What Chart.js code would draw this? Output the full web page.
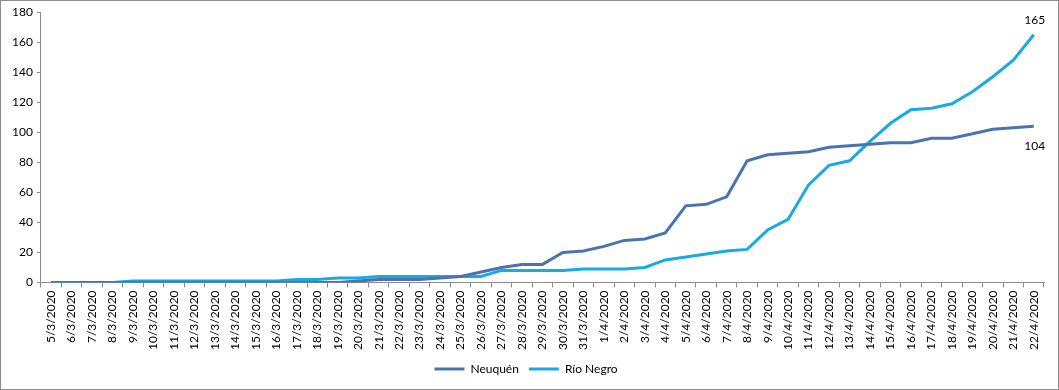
<!DOCTYPE html>
<html>
<head>
<meta charset="utf-8">
<script src="https://cdn.jsdelivr.net/npm/chart.js@4.4.0/dist/chart.umd.min.js"></script>
<style>
    html, body { margin: 0; padding: 0; background: #fff; }
    #wrap {
        width: 1059px; height: 390px; box-sizing: border-box;
        border: 1px solid #8c8c8c; position: relative;
    }
    canvas { display: block; }
</style>
</head>
<body>
<div id="wrap"><canvas id="casos" width="1057" height="388"></canvas></div>
<script>
// Fechas (eje X)
var fechas = [
    '5/3/2020', '6/3/2020', '7/3/2020', '8/3/2020', '9/3/2020', '10/3/2020', '11/3/2020',
    '12/3/2020', '13/3/2020', '14/3/2020', '15/3/2020', '16/3/2020', '17/3/2020', '18/3/2020',
    '19/3/2020', '20/3/2020', '21/3/2020', '22/3/2020', '23/3/2020', '24/3/2020', '25/3/2020',
    '26/3/2020', '27/3/2020', '28/3/2020', '29/3/2020', '30/3/2020', '31/3/2020', '1/4/2020',
    '2/4/2020', '3/4/2020', '4/4/2020', '5/4/2020', '6/4/2020', '7/4/2020', '8/4/2020',
    '9/4/2020', '10/4/2020', '11/4/2020', '12/4/2020', '13/4/2020', '14/4/2020', '15/4/2020',
    '16/4/2020', '17/4/2020', '18/4/2020', '19/4/2020', '20/4/2020', '21/4/2020', '22/4/2020'
];

// Casos acumulados
var neuquen = [
    0, 0, 0, 0, 0, 0, 0, 0, 0, 0, 0, 0, 0, 0, 0,
    1, 2, 2, 2, 3, 4, 7, 10, 12, 12, 20, 21, 24, 28, 29, 33,
    51, 52, 57, 81, 85, 86, 87, 90, 91, 92, 93, 93, 96, 96, 99, 102, 103, 104
];
var rioNegro = [
    0, 0, 0, 0, 1, 1, 1, 1, 1, 1, 1, 1, 2, 2, 3,
    3, 4, 4, 4, 4, 4, 4, 8, 8, 8, 8, 9, 9, 9, 10, 15,
    17, 19, 21, 22, 35, 42, 65, 78, 81, 94, 106, 115, 116, 119, 127, 137, 148, 165
];

var yTicks = [0, 20, 40, 60, 80, 100, 120, 140, 160, 180];

var FONT = "Lato, 'Open Sans', sans-serif";

// Etiqueta con el último valor de cada serie
var ultimoValor = {
    id: 'ultimoValor',
    afterDatasetsDraw: function (chart) {
        var ctx = chart.ctx;
        ctx.save();
        ctx.font = '12px ' + FONT;
        ctx.fillStyle = '#000';
        ctx.textAlign = 'center';
        ctx.textBaseline = 'middle';
        chart.data.datasets.forEach(function (ds, i) {
            var meta = chart.getDatasetMeta(i);
            var last = meta.data[meta.data.length - 1];
            var dy = ds.etiquetaArriba ? -15 : 20;
            ctx.fillText(ds.data[ds.data.length - 1], last.x + 1, last.y + dy);
        });
        ctx.restore();
    }
};

var ctx = document.getElementById('casos').getContext('2d');
new Chart(ctx, {
    type: 'line',
    data: {
        labels: fechas,
        datasets: [
            {
                label: 'Neuquén',
                data: neuquen,
                borderColor: '#4a74b0',
                backgroundColor: '#4a74b0',
                borderWidth: 3,
                pointRadius: 0,
                tension: 0,
                etiquetaArriba: false
            },
            {
                label: 'Río Negro',
                data: rioNegro,
                borderColor: '#18abe2',
                backgroundColor: '#18abe2',
                borderWidth: 3,
                pointRadius: 0,
                tension: 0,
                etiquetaArriba: true
            }
        ]
    },
    options: {
        responsive: false,
        animation: false,
        layout: { padding: { left: 7, right: 14, top: 10, bottom: 4 } },
        plugins: {
            tooltip: { enabled: false },
            legend: {
                position: 'bottom',
                labels: {
                    usePointStyle: true,
                    pointStyle: 'line',
                    pointStyleWidth: 30,
                    boxHeight: 3,
                    color: '#000',
                    padding: 10,
                    font: { family: FONT, size: 12 }
                }
            }
        },
        scales: {
            x: {
                offset: true,
                grid: {
                    offset: true,
                    drawOnChartArea: false,
                    drawTicks: true,
                    tickLength: 5,
                    color: '#8c8c8c'
                },
                border: { display: true, color: '#8c8c8c' },
                ticks: {
                    autoSkip: false,
                    maxRotation: 90,
                    minRotation: 90,
                    padding: 3,
                    color: '#000',
                    font: { family: FONT, size: 12 }
                }
            },
            y: {
                min: 0,
                max: 180,
                afterBuildTicks: function (axis) {
                    axis.ticks = yTicks.map(function (v) { return { value: v }; });
                },
                grid: {
                    drawOnChartArea: false,
                    drawTicks: true,
                    tickLength: 4,
                    color: '#8c8c8c'
                },
                border: { display: true, color: '#8c8c8c' },
                ticks: {
                    padding: 4,
                    color: '#000',
                    font: { family: FONT, size: 12 }
                }
            }
        }
    },
    plugins: [ultimoValor]
});
</script>
</body>
</html>
